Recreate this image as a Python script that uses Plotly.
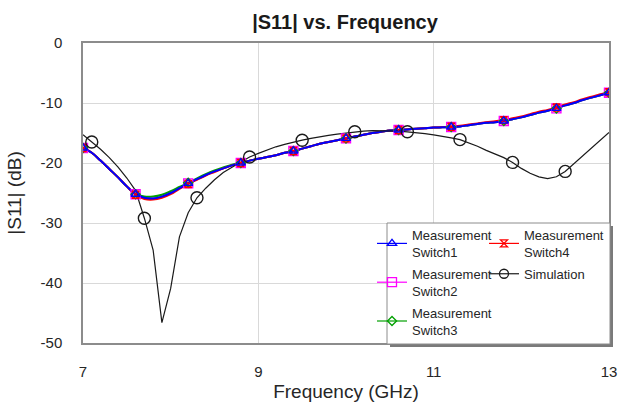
import numpy as np
import plotly.graph_objects as go

# Frequency grid in GHz (0.1 GHz steps)
freq = np.round(np.arange(70, 131) / 10.0, 1)

# Axis ticks
x_ticks = [7, 9, 11, 13]
y_ticks = [0, -10, -20, -30, -40, -50]
y_tick_labels = ["0", "-10", "-20", "-30", "-40", "-50"]

# |S11| in dB for the four measured switch states
switch1 = [-17.5, -18.3, -19.6, -21.0, -22.4, -23.9, -25.2, -25.8, -25.9, -25.6,
           -25.0, -24.2, -23.4, -22.7, -22.0, -21.4, -20.9, -20.4, -20.0, -19.6,
           -19.3, -19.0, -18.7, -18.3, -18.0, -17.6, -17.2, -16.8, -16.5, -16.2,
           -15.9, -15.6, -15.3, -15.0, -14.8, -14.6, -14.5, -14.4, -14.3, -14.2,
           -14.1, -14.05, -14.0, -13.9, -13.7, -13.5, -13.3, -13.2, -13.0, -12.7,
           -12.4, -12.0, -11.6, -11.3, -10.9, -10.4, -10.0, -9.5, -9.1, -8.7, -8.3]
switch2 = [-17.5, -18.3, -19.6, -21.0, -22.4, -23.9, -25.2, -25.8, -25.9, -25.6,
           -25.0, -24.2, -23.4, -22.7, -22.0, -21.4, -20.9, -20.4, -20.0, -19.6,
           -19.3, -19.0, -18.7, -18.3, -18.0, -17.6, -17.2, -16.8, -16.5, -16.2,
           -15.9, -15.6, -15.3, -15.0, -14.8, -14.6, -14.5, -14.4, -14.3, -14.2,
           -14.1, -14.05, -14.0, -13.9, -13.7, -13.5, -13.3, -13.2, -13.0, -12.7,
           -12.4, -12.0, -11.6, -11.3, -10.9, -10.4, -10.0, -9.5, -9.1, -8.7, -8.3]
switch3 = [-17.5, -18.3, -19.6, -21.0, -22.4, -23.9, -25.2, -25.6, -25.6, -25.3,
           -24.7, -24.0, -23.3, -22.55, -21.85, -21.25, -20.75, -20.3, -20.0, -19.6,
           -19.3, -19.0, -18.7, -18.3, -18.0, -17.6, -17.2, -16.8, -16.5, -16.2,
           -15.9, -15.6, -15.3, -15.0, -14.8, -14.6, -14.5, -14.4, -14.3, -14.2,
           -14.1, -14.05, -14.0, -13.9, -13.7, -13.5, -13.3, -13.2, -13.0, -12.7,
           -12.4, -12.0, -11.6, -11.3, -10.9, -10.4, -10.0, -9.5, -9.1, -8.7, -8.3]
switch4 = [-17.5, -18.3, -19.6, -21.0, -22.4, -23.9, -25.3, -26.0, -26.1, -25.8,
           -25.2, -24.3, -23.5, -22.8, -22.1, -21.5, -20.9, -20.4, -20.0, -19.6,
           -19.3, -19.0, -18.7, -18.3, -18.0, -17.6, -17.2, -16.8, -16.5, -16.2,
           -15.9, -15.6, -15.3, -15.0, -14.8, -14.6, -14.5, -14.4, -14.3, -14.2,
           -14.1, -14.0, -13.95, -13.8, -13.6, -13.4, -13.2, -13.05, -12.85, -12.55,
           -12.25, -11.85, -11.45, -11.15, -10.75, -10.25, -9.85, -9.35, -8.95, -8.55, -8.2]

# Simulated |S11| in dB
simulation = [-15.3, -16.5, -17.7, -19.1, -20.7, -22.5, -24.6, -29.2, -34.5, -46.6,
              -40.9, -32.3, -28.3, -25.8, -24.2, -22.8, -21.6, -20.7, -19.8, -19.0,
              -18.4, -17.8, -17.3, -16.9, -16.5, -16.2, -15.9, -15.6, -15.4, -15.2,
              -15.0, -14.8, -14.7, -14.6, -14.6, -14.6, -14.7, -14.8, -14.9, -15.1,
              -15.3, -15.5, -15.8, -16.1, -16.6, -17.2, -17.9, -18.5, -19.1, -19.9,
              -20.9, -21.7, -22.3, -22.6, -22.3, -21.4, -20.1, -18.8, -17.5, -16.2, -14.9]

FONT = "Liberation Sans, Arial, sans-serif"
TEXT = "#262626"

# name, values, colour, symbol, marker size, line width, marker start index, legend
series = [
    ("Measurement<br>Switch2", switch2, "#ff00ff", "square-open", 9, 2.0, 0, "legend"),
    ("Measurement<br>Switch3", switch3, "#00a000", "diamond-open", 7, 2.0, 0, "legend"),
    ("Measurement<br>Switch4", switch4, "#ff0000", "hourglass-open", 7, 2.0, 0, "legend2"),
    ("Measurement<br>Switch1", switch1, "#0000ff", "triangle-up-open", 8, 2.0, 0, "legend"),
    ("Simulation", simulation, "#1a1a1a", "circle-open", 12, 1.2, 1, "legend2"),
]

fig = go.Figure()

# curves
for name, vals, col, sym, ms, lw, start, lg in series:
    shape = "linear" if name == "Simulation" else "spline"
    fig.add_trace(go.Scatter(x=freq, y=vals, mode="lines", showlegend=False,
                             line=dict(color=col, width=lw, shape=shape)))

# markers every 0.6 GHz
for name, vals, col, sym, ms, lw, start, lg in series:
    fig.add_trace(go.Scatter(x=freq[start::6], y=np.array(vals)[start::6], mode="markers",
                             showlegend=False,
                             marker=dict(symbol=sym, size=ms, color=col,
                                         line=dict(color=col, width=1.4))))

# legend entries (two columns)
legend_order = ["Measurement<br>Switch1", "Measurement<br>Switch2", "Measurement<br>Switch3",
                "Measurement<br>Switch4", "Simulation"]
lookup = {s[0]: s for s in series}
for i, nm in enumerate(legend_order):
    name, vals, col, sym, ms, lw, start, lg = lookup[nm]
    fig.add_trace(go.Scatter(x=[None], y=[None], mode="lines+markers", name=name, legend=lg,
                             legendgroup="g%d" % i,
                             line=dict(color=col, width=1.2),
                             marker=dict(symbol=sym, size=min(ms, 9), color=col,
                                         line=dict(color=col, width=1.3))))

L, R, T, B = 83, 10, 43, 60
W, H = 619, 403
pw, ph = W - L - R, H - T - B

def px_x(p):
    return (p - L) / pw

def px_y(p):
    return (H - B - p) / ph

# legend frame with drop shadow
fig.add_shape(type="rect", xref="paper", yref="paper", layer="above",
              x0=px_x(390), x1=px_x(613), y0=px_y(347), y1=px_y(226),
              fillcolor="#7a7a7a", line=dict(width=0))
fig.add_shape(type="rect", xref="paper", yref="paper", layer="above",
              x0=px_x(387), x1=px_x(610), y0=px_y(344), y1=px_y(223),
              fillcolor="white", line=dict(color="#8c8c8c", width=1))

legend_style = dict(bgcolor="rgba(0,0,0,0)", borderwidth=0, yanchor="top",
                    font=dict(family=FONT, size=13, color=TEXT), itemwidth=30,
                    tracegroupgap=2)

fig.update_layout(
    width=W, height=H,
    margin=dict(l=L, r=R, t=T, b=B),
    paper_bgcolor="white", plot_bgcolor="white",
    font=dict(family=FONT, color=TEXT),
    title=dict(text="<b>|S11| vs. Frequency</b>", x=345 / W, xanchor="center",
               y=1 - 22 / H, yanchor="middle",
               font=dict(family=FONT, size=20, color="#1a1a1a")),
    xaxis=dict(range=[7, 13], tickvals=x_ticks, ticktext=[str(v) for v in x_ticks],
               showgrid=True, gridcolor="#d9d9d9", automargin=False,
               gridwidth=1, zeroline=False, showline=True, linecolor="#8c8c8c",
               linewidth=1.5, mirror=True, ticks="", ticklabelstandoff=14,
               tickfont=dict(family=FONT, size=15, color=TEXT),
               title=dict(text="Frequency (GHz)", standoff=6,
                          font=dict(family=FONT, size=19, color=TEXT))),
    yaxis=dict(range=[-50, 0], tickvals=y_ticks, ticktext=y_tick_labels,
               showgrid=True, gridcolor="#d9d9d9", automargin=False,
               gridwidth=1, zeroline=False, showline=True, linecolor="#8c8c8c",
               linewidth=1.5, mirror=True, ticks="", ticklabelstandoff=16,
               tickfont=dict(family=FONT, size=15, color=TEXT),
               title=dict(text="|S11| (dB)", standoff=14,
                          font=dict(family=FONT, size=19, color=TEXT))),
    legend=dict(x=px_x(372), y=px_y(220), xanchor="left", **legend_style),
    legend2=dict(x=1.0, y=px_y(220), xanchor="right", **legend_style),
)

fig.write_html("out.html")
